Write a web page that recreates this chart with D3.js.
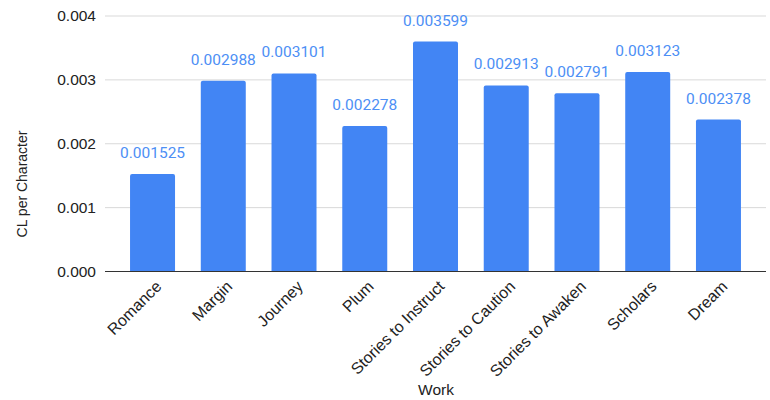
<!doctype html>
<html>
<head>
<meta charset="UTF-8">
<script src="https://cdnjs.cloudflare.com/ajax/libs/d3/7.8.5/d3.min.js"></script>
<style>
  body { margin: 0; background: #fff; }
</style>
</head>
<body>
<div id="chart"></div>
<script>
// data
var works = ["Romance", "Margin", "Journey", "Plum", "Stories to Instruct",
             "Stories to Caution", "Stories to Awaken", "Scholars", "Dream"];
var clPerChar = [0.001525, 0.002988, 0.003101, 0.002278, 0.003599,
                 0.002913, 0.002791, 0.003123, 0.002378];
var yTicks = [0, 0.001, 0.002, 0.003, 0.004];

var W = 770, H = 400;
var margin = {top: 16, right: 4, bottom: 128.5, left: 105};
var width = W - margin.left - margin.right,
    height = H - margin.top - margin.bottom;

var svg = d3.select("#chart").append("svg")
  .attr("width", W)
  .attr("height", H);

var g = svg.append("g")
  .attr("transform", "translate(" + margin.left + "," + margin.top + ")");

var x = d3.scaleBand().domain(works).range([0, width])
  .paddingInner(0.364).paddingOuter(0.354);
var y = d3.scaleLinear().domain([0, 0.004]).range([height, 0]);

// grid
g.append("g")
  .selectAll("line")
  .data(yTicks.slice(1))
  .enter().append("line")
    .attr("x1", 0).attr("x2", width)
    .attr("y1", d => y(d)).attr("y2", d => y(d))
    .attr("stroke", "#d9d9d9")
    .attr("stroke-width", 1);

// y tick labels
var yAxis = d3.axisLeft(y).tickValues(yTicks).tickFormat(d3.format(".3f")).tickSize(0).tickPadding(9);
g.append("g").call(yAxis)
  .call(s => s.select(".domain").remove())
  .selectAll("text")
    .style("font-family", "Liberation Sans, Arial, sans-serif")
    .style("font-size", "15.5px")
    .attr("fill", "#222");

// bars
var r = 2;
g.append("g")
  .selectAll("path")
  .data(works)
  .enter().append("path")
    .attr("fill", "#4285f4")
    .attr("d", function(d, i) {
      var x0 = x(d), x1 = x0 + x.bandwidth(), yt = y(clPerChar[i]), yb = y(0);
      return "M" + x0 + "," + yb + "V" + (yt + r) + "Q" + x0 + "," + yt + " " + (x0 + r) + "," + yt +
             "H" + (x1 - r) + "Q" + x1 + "," + yt + " " + x1 + "," + (yt + r) + "V" + yb + "Z";
    });

// value labels
g.append("g")
  .selectAll("text")
  .data(works)
  .enter().append("text")
    .attr("x", d => x(d) + x.bandwidth() / 2)
    .attr("y", (d, i) => y(clPerChar[i]) - 16)
    .attr("text-anchor", "middle")
    .style("font-family", "Roboto, sans-serif")
    .style("font-size", "15.5px")
    .attr("fill", "#4d8ff5")
    .text((d, i) => clPerChar[i].toFixed(6));

// baseline
g.append("line")
  .attr("x1", 0).attr("x2", width)
  .attr("y1", y(0)).attr("y2", y(0))
  .attr("stroke", "#333").attr("stroke-width", 1);

// x labels
g.append("g")
  .selectAll("text")
  .data(works)
  .enter().append("text")
    .attr("transform", d => "translate(" + (x(d) + x.bandwidth() / 2 + 6) + "," + (height + 12) + ")rotate(-45)")
    .attr("text-anchor", "end")
    .attr("dy", "0.35em")
    .style("font-family", "Liberation Sans, Arial, sans-serif")
    .style("font-size", "16px")
    .attr("fill", "#222")
    .text(d => d);

// axis titles
svg.append("text")
  .attr("x", 436).attr("y", 395)
  .attr("text-anchor", "middle")
  .style("font-family", "Liberation Sans, Arial, sans-serif")
  .style("font-size", "15.5px")
  .attr("fill", "#222")
  .text("Work");

svg.append("text")
  .attr("transform", "translate(27,184)rotate(-90)")
  .attr("text-anchor", "middle")
  .style("font-family", "Liberation Sans, Arial, sans-serif")
  .style("font-size", "14px")
  .attr("fill", "#222")
  .text("CL per Character");
</script>
</body>
</html>
